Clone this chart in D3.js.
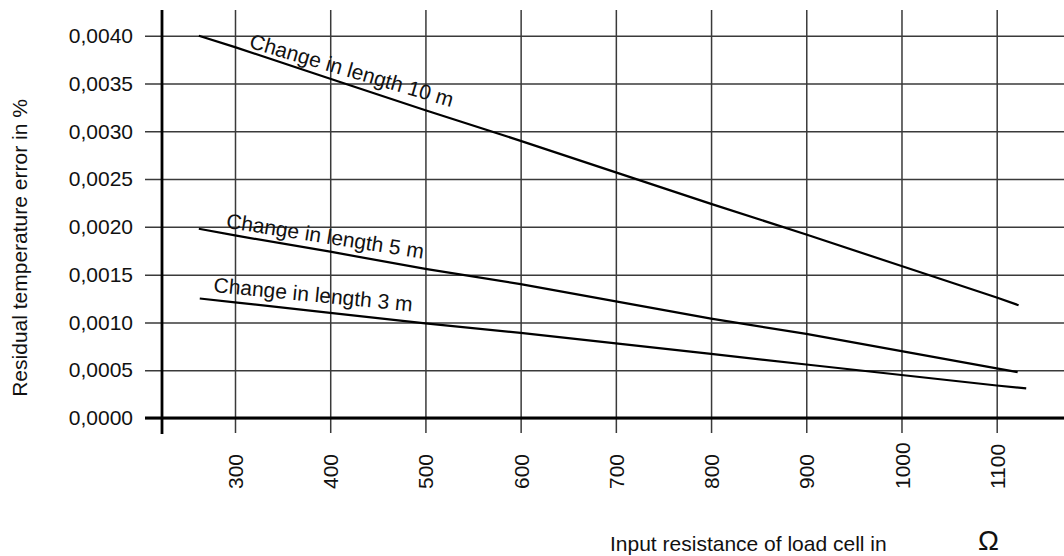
<!DOCTYPE html>
<html>
<head>
<meta charset="utf-8">
<script src="https://cdn.jsdelivr.net/npm/d3@7/dist/d3.min.js"></script>
<style>
  html, body { margin: 0; padding: 0; background: #fff; }
  svg { display: block; }
  text { font-family: "Liberation Sans", Arial, sans-serif; fill: #111; }
</style>
</head>
<body>
<svg id="chart" width="1064" height="556"></svg>
<script>
// ---- data ----
const xTicks = [300, 400, 500, 600, 700, 800, 900, 1000, 1100];
const yTicks = [0, 0.0005, 0.0010, 0.0015, 0.0020, 0.0025, 0.0030, 0.0035, 0.0040];

const seriesNames = ["Change in length 10 m", "Change in length 5 m", "Change in length 3 m"];

const r10 = [262, 300, 400, 500, 600, 700, 800, 900, 1000, 1100, 1123];
const v10 = [0.00400, 0.00388, 0.00355, 0.00322, 0.00290, 0.00257, 0.00224, 0.00192, 0.00159, 0.00126, 0.00118];

const r5 = [262, 300, 400, 500, 600, 700, 800, 900, 1000, 1100, 1122];
const v5 = [0.00198, 0.00191, 0.00174, 0.00156, 0.00140, 0.00122, 0.00104, 0.00088, 0.00070, 0.00052, 0.00048];

const r3 = [263, 300, 400, 500, 600, 700, 800, 900, 1000, 1100, 1131];
const v3 = [0.00125, 0.00121, 0.00110, 0.00099, 0.00089, 0.00078, 0.00067, 0.00056, 0.00045, 0.00034, 0.00031];

const labelR = [314, 290, 277];

// ---- layout ----
const svg = d3.select("#chart");
const W = 1064;
const x = d3.scaleLinear().domain([300, 1100]).range([235, 996.7]);
const y = d3.scaleLinear().domain([0, 0.004]).range([418, 35.7]);
const gridLeft = 145, gridTop = 10, tickBottom = 433;

const locale = d3.formatLocale({decimal: ",", thousands: ".", grouping: [3], currency: ["", ""]});
const fmtY = locale.format(".4f");

// horizontal grid + y labels
const yAxis = d3.axisLeft(y).tickValues(yTicks).tickFormat(fmtY)
  .tickSizeInner(-(W - gridLeft)).tickSizeOuter(0).tickPadding(12);
const gy = svg.append("g").attr("transform", `translate(${gridLeft},0)`).call(yAxis);
gy.select(".domain").remove();
gy.selectAll(".tick line").attr("stroke", "#3a3a3a").attr("stroke-width", 1.5);
gy.selectAll(".tick text").attr("font-size", 21).attr("font-family", "Liberation Sans, Arial, sans-serif").attr("fill", "#111");

// vertical grid + x labels
const xAxis = d3.axisBottom(x).tickValues(xTicks).tickFormat(d3.format("d"))
  .tickSizeInner(-(tickBottom - gridTop)).tickSizeOuter(0);
const gx = svg.append("g").attr("transform", `translate(0,${tickBottom})`).call(xAxis);
gx.select(".domain").remove();
gx.selectAll(".tick line").attr("stroke", "#3a3a3a").attr("stroke-width", 1.5);
gx.selectAll(".tick text")
  .attr("font-size", 21).attr("font-family", "Liberation Sans, Arial, sans-serif").attr("fill", "#111")
  .attr("x", 0).attr("y", 0).attr("dy", "0.36em")
  .attr("text-anchor", "start")
  .attr("transform", "translate(0,56) rotate(-90)");

// axes lines
svg.append("line").attr("x1", 162).attr("x2", 162).attr("y1", gridTop).attr("y2", tickBottom + 1)
  .attr("stroke", "#000").attr("stroke-width", 2.8);
svg.append("line").attr("x1", gridLeft).attr("x2", W).attr("y1", y(0)).attr("y2", y(0))
  .attr("stroke", "#000").attr("stroke-width", 2.8);

// series lines
const series = [[r10, v10], [r5, v5], [r3, v3]];
const lineGen = d3.line().x(d => x(d[0])).y(d => y(d[1]));
const offsets = [-4, -6, -8];
series.forEach(([rs, vs], i) => {
  const pts = rs.map((r, k) => [r, vs[k]]);
  svg.append("path").attr("d", lineGen(pts)).attr("fill", "none")
    .attr("stroke", "#000").attr("stroke-width", 2.2).attr("stroke-linejoin", "round");
  const interp = d3.scaleLinear().domain(rs).range(vs);
  const x0 = x(rs[0]), y0 = y(vs[0]);
  const x1 = x(rs[rs.length - 1]), y1 = y(vs[vs.length - 1]);
  const ang = Math.atan2(y1 - y0, x1 - x0) * 180 / Math.PI * 0.9;
  const lx = x(labelR[i]), ly = y(interp(labelR[i])) + offsets[i];
  svg.append("text").attr("transform", `translate(${lx},${ly}) rotate(${ang})`)
    .attr("font-size", 21).text(seriesNames[i]);
});

// axis titles
svg.append("text").attr("transform", "translate(27,248) rotate(-90)")
  .attr("text-anchor", "middle").attr("font-size", 21)
  .text("Residual temperature error in %");
svg.append("text").attr("x", 610).attr("y", 551).attr("font-size", 21)
  .text("Input resistance of load cell in");
svg.append("text").attr("x", 978).attr("y", 550).attr("font-size", 28)
  .text("Ω");
</script>
</body>
</html>
